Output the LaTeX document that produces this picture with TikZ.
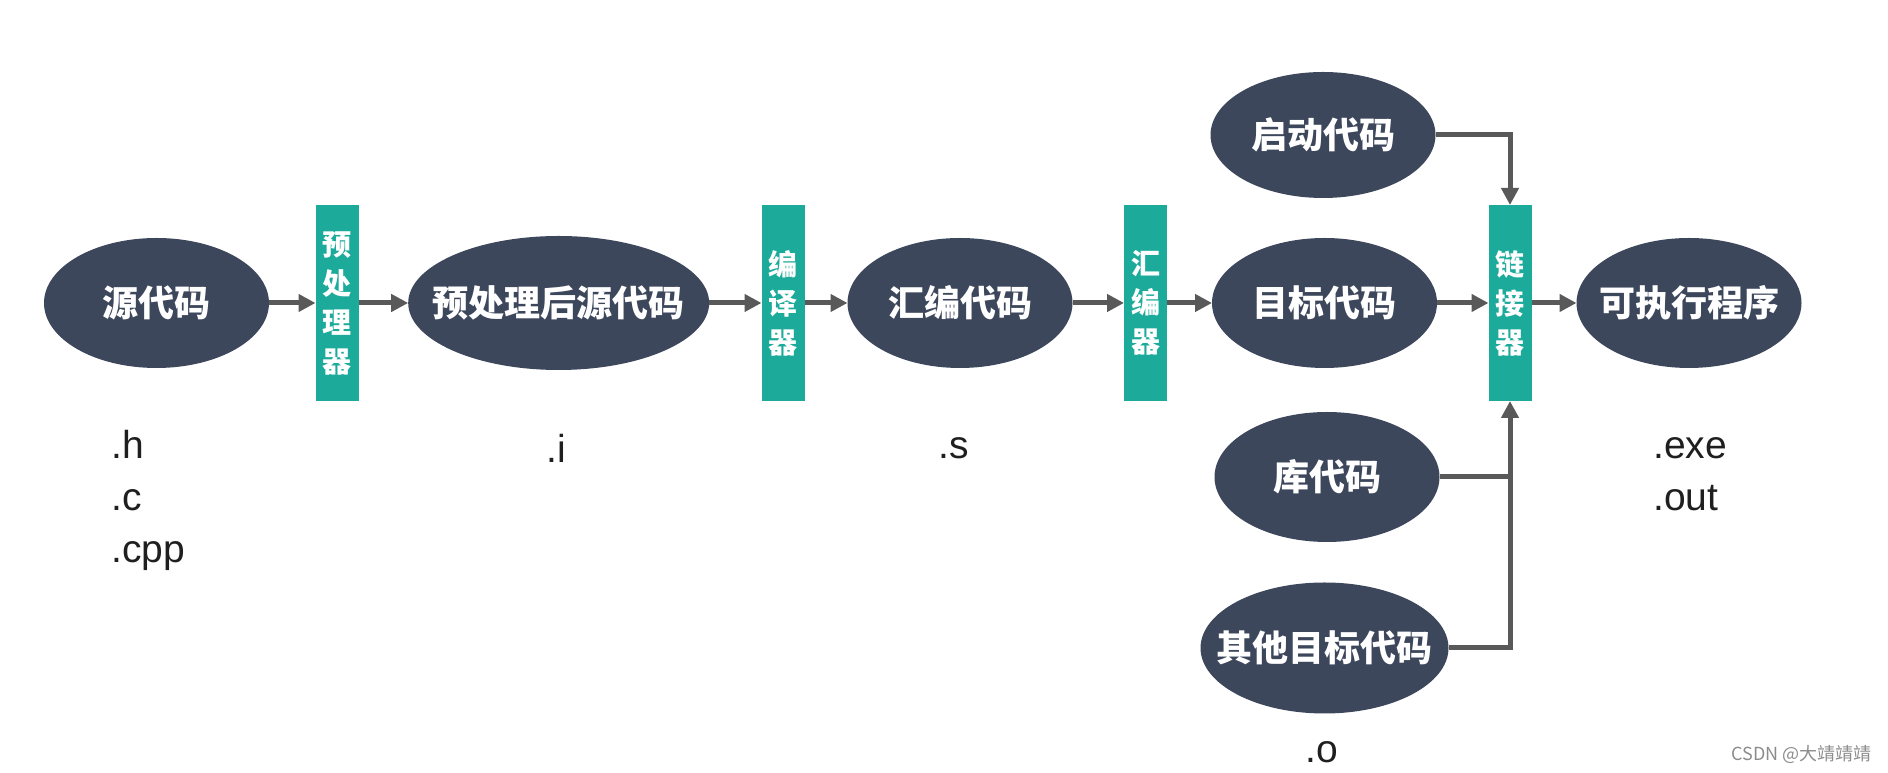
\documentclass[tikz,border=0pt]{standalone}
\usepackage{fontspec}
\setmainfont{Liberation Sans}
\newfontfamily\cjk{Noto Sans CJK SC}
\usetikzlibrary{shapes.geometric,arrows.meta}
\definecolor{ovalc}{HTML}{3D475C}
\definecolor{boxc}{HTML}{1CAB9B}
\definecolor{arrc}{HTML}{595959}
\begin{document}
\begin{tikzpicture}[x=1pt,y=1pt,
 oval/.style={ellipse, fill=ovalc, minimum height=130pt, minimum width=225pt, inner sep=0pt, outer sep=0pt,
   text=white, font=\cjk\bfseries\fontsize{36}{40}\selectfont},
 tool/.style={rectangle, fill=boxc, minimum width=43pt, minimum height=196pt, inner sep=0pt, outer sep=0pt,
   text=white, align=center, font=\cjk\bfseries\fontsize{29}{39}\selectfont},
 arr/.style={draw=arrc, line width=5pt, -{Triangle[length=17pt,width=17pt]}},
 ln/.style={draw=arrc, line width=5pt},
 ext/.style={font=\fontsize{39}{52}\selectfont, text=black!88, inner sep=0pt, align=left}]
\useasboundingbox (0,0) rectangle (1888,773);
% main row
\node[oval] (src) at (156.5,470) {\makebox[0pt]{源代码}};
\node[tool] (pp) at (337,470) {预\\处\\理\\器};
\node[oval, minimum width=301pt, minimum height=134pt] (pps) at (558.7,470) {\makebox[0pt]{预处理后源代码}};
\node[tool] (cc) at (783,470) {编\\译\\器};
\node[oval] (asm) at (960,470) {\makebox[0pt]{汇编代码}};
\node[tool] (as) at (1145.5,470) {汇\\编\\器};
\node[oval] (obj) at (1324.5,470) {\makebox[0pt]{目标代码}};
\node[tool] (link) at (1510,470) {链\\接\\器};
\node[oval] (exe) at (1689,470) {\makebox[0pt]{可执行程序}};
% other inputs
\node[oval, minimum height=126pt] (start) at (1323,638) {\makebox[0pt]{启动代码}};
\node[oval] (lib) at (1327,296) {\makebox[0pt]{库代码}};
\node[oval, minimum width=248pt, minimum height=131pt] (oth) at (1324.5,125) {\makebox[0pt]{其他目标代码}};
% connectors
\draw[arr] (src) -- (pp);
\draw[arr] (pp) -- (pps);
\draw[arr] (pps) -- (cc);
\draw[arr] (cc) -- (asm);
\draw[arr] (asm) -- (as);
\draw[arr] (as) -- (obj);
\draw[arr] (obj) -- (link);
\draw[arr] (link) -- (exe);
\draw[arr] (start.east) -| (link.north);
\draw[ln] (lib.east) -- (lib.east -| link.south);
\draw[arr] (oth.east) -| (link.south);
% extensions
\node[ext, anchor=west] (e1) at (111,273) {.h\\.c\\.cpp};
\node[ext] (e2) at (556,325) {.i};
\node[ext] (e3) at (954,325) {.s};
\node[ext, anchor=west] (e4) at (1653,299) {.exe\\.out};
\node[ext] (e5) at (1322,21) {.o};
\node[font=\cjk\fontsize{18}{20}\selectfont, text=black!45, anchor=east, inner sep=0pt] (wm) at (1872,18) {CSDN @大靖靖靖};
\end{tikzpicture}
\end{document}
